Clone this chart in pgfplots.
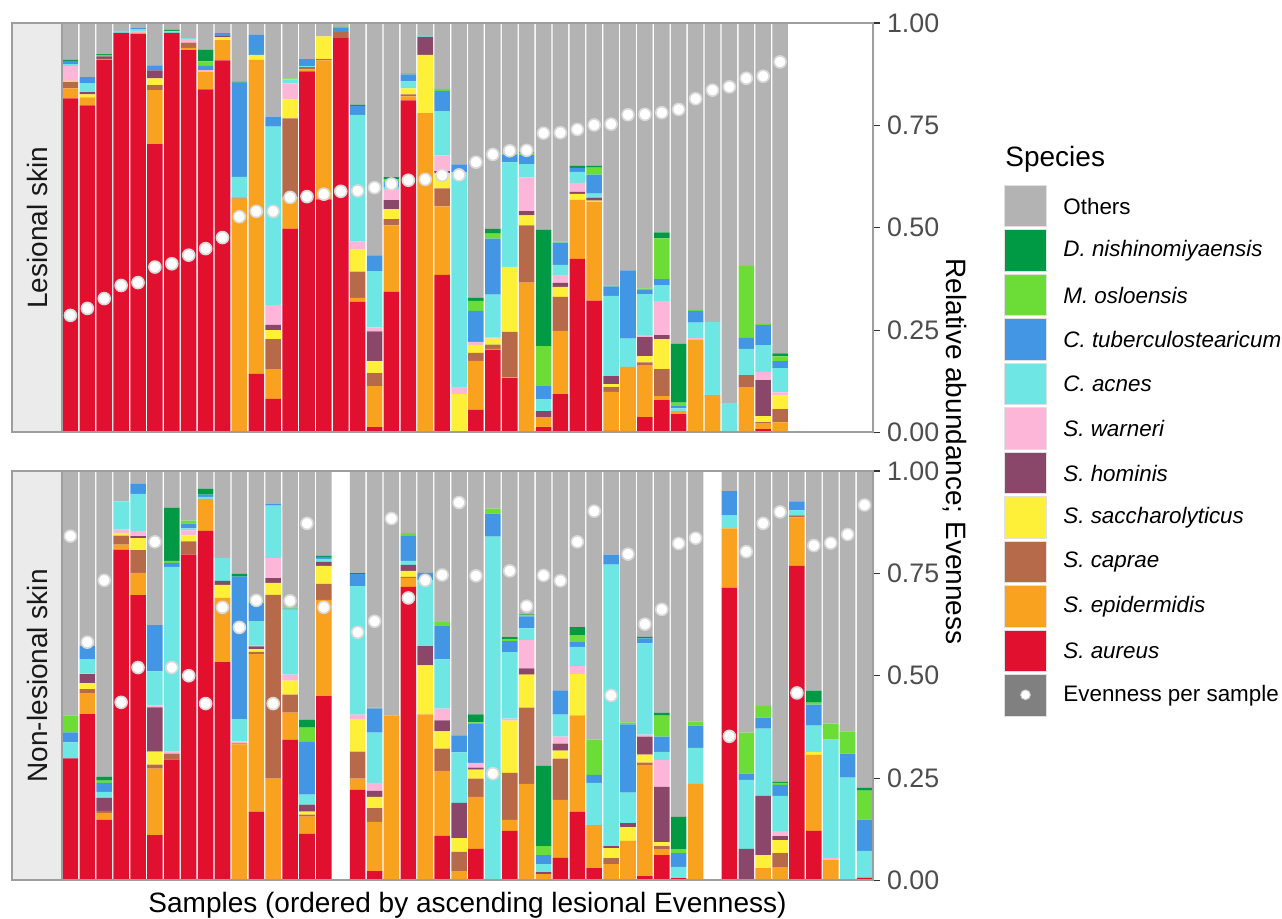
\documentclass[border=0pt]{standalone}
\usepackage{pgfplots}
\pgfplotsset{compat=1.18}
\usepackage{pgfplotstable}
\usepackage{fontspec}
\setmainfont{Liberation Sans}

\definecolor{cOT}{HTML}{B3B3B3}
\definecolor{cDN}{HTML}{009A44}
\definecolor{cMO}{HTML}{6BDD36}
\definecolor{cCT}{HTML}{4396E3}
\definecolor{cAC}{HTML}{6EE6E4}
\definecolor{cWA}{HTML}{FDB6D8}
\definecolor{cHO}{HTML}{8B4769}
\definecolor{cSA}{HTML}{FEEF38}
\definecolor{cCA}{HTML}{B66A4A}
\definecolor{cEP}{HTML}{F8A21F}
\definecolor{cAU}{HTML}{E1102F}
\definecolor{framec}{HTML}{9E9E9E}
\definecolor{stripc}{HTML}{EBEBEB}
\definecolor{ticklab}{HTML}{4D4D4D}
\definecolor{tickc}{HTML}{333333}

\pgfplotstableread{
x au ep ca sa ho wa ac ct mo dn ot ev
0 0.816 0.0245 0.0155 0.0025 0 0.036 0.005 0.008 0 0.0025 0.090 0.286
1 0.799 0.0196 0 0.0073 0.005 0 0.022 0.0147 0 0 0.1324 0.303
2 0.910 0.0025 0 0 0.0057 0 0 0 0.004 0.002 0.0758 0.327
3 0.976 0 0 0 0 0 0.005 0 0 0 0.019 0.359
4 0.973 0.003 0 0 0 0.004 0.005 0.0025 0 0 0.0125 0.366
5 0.704 0.132 0.012 0.017 0.0196 0 0 0.012 0 0 0.1034 0.404
6 0.976 0 0 0 0 0 0.003 0 0.002 0.002 0.017 0.412
7 0.934 0.005 0.013 0 0 0.009 0.002 0 0 0 0.037 0.433
8 0.838 0.042 0 0 0 0.005 0 0.010 0.011 0.029 0.065 0.449
9 0.909 0.049 0 0.007 0.005 0 0 0.005 0 0 0.025 0.476
10 0 0.571 0.0025 0 0 0 0.051 0.230 0 0.0025 0.143 0.527
11 0.143 0.767 0 0.012 0 0 0 0.049 0 0 0.029 0.540
12 0.082 0.073 0.073 0.022 0.013 0.048 0.436 0.0245 0 0 0.2285 0.540
13 0.498 0.076 0.193 0.0465 0 0.039 0.0098 0 0.0025 0 0.1352 0.574
14 0.882 0.005 0.005 0 0 0 0.0025 0.017 0 0 0.0885 0.576
15 0.569 0.340 0.0025 0.056 0 0 0 0 0 0 0.0325 0.582
16 0.963 0 0.015 0 0 0 0 0.0098 0.0025 0 0.0097 0.589
17 0.319 0.0098 0.064 0.054 0 0.0196 0.309 0.022 0 0.0025 0.2001 0.590
18 0.013 0.100 0.032 0.029 0.073 0.0098 0.137 0.039 0 0 0.5672 0.598
19 0.344 0.162 0.015 0.0245 0.022 0.027 0.005 0.012 0.007 0.005 0.3765 0.607
20 0.811 0.0098 0.005 0.0147 0 0 0.017 0.017 0.003 0 0.1225 0.616
21 0 0.780 0 0.142 0.044 0 0.0025 0 0 0 0.0315 0.618
22 0.385 0.167 0.044 0.037 0.005 0.039 0.108 0.049 0.005 0 0.161 0.628
23 0 0 0 0.094 0 0.017 0.524 0.0196 0 0 0.3454 0.629
24 0.055 0.120 0.0196 0.0196 0 0.007 0 0.076 0.0245 0.007 0.6713 0.660
25 0.202 0.0025 0.0098 0.0147 0 0.0025 0.105 0.137 0.012 0.012 0.5025 0.679
26 0.133 0.0025 0.110 0.159 0 0 0.255 0.0196 0.0025 0 0.3184 0.688
27 0 0.366 0.140 0.0245 0.0098 0.083 0.032 0.022 0.005 0.002 0.3157 0.689
28 0.013 0.0245 0 0 0.0147 0 0.029 0.032 0.098 0.284 0.5048 0.731
29 0.094 0.154 0.083 0.0245 0.0098 0.0196 0.0245 0.054 0.0025 0 0.5341 0.732
30 0.424 0.144 0 0.0147 0.005 0.022 0.027 0.0098 0 0.005 0.3485 0.740
31 0.322 0.242 0 0.0025 0.007 0 0.0098 0.0465 0.017 0.005 0.3482 0.751
32 0.004 0.095 0.012 0.007 0.0196 0 0.196 0.023 0.0025 0 0.6409 0.753
33 0 0.160 0 0 0 0 0.069 0.167 0 0 0.604 0.776
34 0.0375 0.127 0.007 0.0147 0.0465 0.005 0.100 0.012 0.0025 0 0.6478 0.777
35 0.079 0.0098 0.066 0.073 0.0098 0.083 0.039 0.0147 0.100 0.0147 0.511 0.781
36 0.045 0.007 0 0 0 0 0.007 0.007 0.007 0.144 0.783 0.789
37 0 0.226 0 0 0 0.005 0.037 0.029 0.0025 0 0.7005 0.815
38 0 0.091 0 0 0 0 0.179 0 0 0 0.730 0.836
39 0 0 0 0 0 0.0025 0.069 0 0 0 0.9285 0.844
40 0 0.111 0.029 0 0 0 0.064 0.027 0.176 0 0.593 0.865
41 0.008 0.0147 0.0025 0.0147 0.088 0.0196 0.066 0.049 0.0025 0 0.735 0.870
42 0 0.025 0.032 0.034 0 0.007 0.059 0.017 0.012 0.007 0.807 0.905
}\lesional

\pgfplotstableread{
x au ep ca sa ho wa ac ct mo dn ot ev
0 0.298 0 0 0 0 0 0.039 0.0245 0.042 0 0.5965 0.841
1 0.406 0.0515 0.0098 0.0147 0.022 0.0025 0.034 0.032 0 0 0.4275 0.582
2 0.148 0.017 0.005 0 0.032 0 0.0147 0.022 0.005 0.0098 0.7465 0.733
3 0.808 0.012 0.022 0.005 0 0.0098 0.069 0 0 0 0.0742 0.435
4 0.697 0.054 0.056 0.029 0.005 0.012 0.091 0.0245 0 0 0.0315 0.520
5 0.111 0.162 0.0098 0.032 0.108 0.005 0.083 0.113 0 0 0.3762 0.827
6 0.295 0 0.0147 0 0 0.005 0.451 0.0098 0.005 0.130 0.0895 0.520
7 0.796 0 0.032 0.0147 0 0.012 0.005 0.012 0.007 0 0.1213 0.500
8 0.854 0.078 0 0 0 0 0.005 0.005 0 0.0147 0.0433 0.432
9 0.533 0.157 0 0.032 0.0098 0 0.056 0 0 0 0.2122 0.667
10 0.0025 0.330 0.0025 0 0 0.005 0.054 0.348 0 0.007 0.251 0.618
11 0.168 0.385 0.005 0.007 0.007 0.0025 0.059 0.044 0.0098 0 0.3127 0.684
12 0.0025 0.246 0.449 0.029 0.012 0.049 0.128 0.005 0 0 0.0795 0.432
13 0.344 0.066 0.044 0.034 0 0.0147 0.159 0.0025 0.0025 0 0.3333 0.683
14 0.114 0.042 0.005 0.007 0.017 0 0.0245 0.130 0.034 0.0196 0.6069 0.872
15 0.450 0.2355 0.039 0.044 0.0098 0 0.007 0.005 0 0.003 0.2067 0.667
17 0.2215 0.027 0.066 0.0785 0 0.012 0.314 0.029 0 0.0025 0.2495 0.606
18 0.023 0.120 0.034 0.027 0.0147 0.0196 0.123 0.059 0.0025 0 0.5772 0.633
19 0 0.403 0 0 0 0 0 0 0 0 0.597 0.884
20 0.717 0.022 0.0025 0.0147 0.0147 0 0.0098 0.061 0.007 0 0.1513 0.690
21 0 0.4055 0 0.120 0.0466 0 0.162 0.017 0 0 0.2489 0.733
22 0.109 0.159 0.054 0.042 0.027 0.029 0.120 0.081 0.0098 0 0.3692 0.746
23 0 0.023 0.0466 0.034 0.086 0 0.123 0.042 0 0 0.6454 0.923
24 0.077 0.1275 0.044 0.022 0.005 0.012 0 0.096 0.0025 0.0196 0.5944 0.744
25 0 0 0 0 0 0 0.840 0.056 0.012 0 0.092 0.261
26 0.121 0.027 0.115 0.1275 0 0.005 0.162 0.027 0.005 0.005 0.4055 0.756
27 0 0.236 0.186 0.081 0.0147 0.069 0.029 0.029 0.0025 0.0025 0.3503 0.670
28 0 0.0155 0 0 0.005 0 0.0196 0.022 0.022 0.196 0.7199 0.745
29 0.055 0.142 0.1005 0.0196 0.017 0.017 0.054 0.059 0 0 0.5359 0.732
30 0.168 0.2355 0 0.1006 0 0.0196 0.0466 0.012 0.017 0.0196 0.3811 0.827
31 0.030 0.1055 0 0 0 0 0.103 0.0196 0.086 0 0.6559 0.902
32 0 0.040 0.0147 0.0245 0.005 0 0.687 0.0245 0 0 0.2043 0.452
33 0 0.0965 0 0.034 0.0098 0 0.074 0.167 0.005 0 0.6137 0.797
34 0.0106 0.272 0.005 0.0196 0.044 0.005 0.223 0.012 0 0.004 0.4048 0.626
35 0.062 0.0147 0.007 0.0098 0.135 0.066 0.0196 0.037 0.0515 0.007 0.5904 0.662
36 0.006 0 0 0 0 0 0.027 0.034 0.0098 0.0785 0.8447 0.823
37 0 0.236 0 0 0 0 0.088 0.054 0.0098 0 0.6122 0.836
39 0.715 0.145 0 0 0 0 0.032 0.059 0 0 0.049 0.352
40 0 0 0 0 0.077 0 0.169 0.0147 0.1006 0 0.6387 0.803
41 0 0.030 0 0.032 0.1447 0 0.164 0.027 0.029 0 0.5733 0.872
42 0 0.0327 0.034 0.032 0.0098 0.012 0.086 0.027 0.005 0.0025 0.759 0.900
43 0.7686 0.118 0.005 0 0 0 0.012 0.022 0 0 0.0744 0.458
44 0.121 0.186 0 0.007 0 0 0.064 0.0515 0.005 0.029 0.5365 0.818
45 0 0.050 0 0 0 0.005 0.289 0 0.039 0 0.617 0.824
46 0 0 0 0 0 0 0.251 0.059 0.054 0 0.636 0.845
47 0.006 0.0025 0 0 0 0 0.064 0.076 0.071 0.0074 0.7731 0.917
}\nonlesional

\pgfplotsset{
  panelgeom/.style={scale only axis, width=405.5pt, height=204.75pt,
    xmin=-0.5, xmax=47.5, ymin=0, ymax=1},
  panel/.style={panelgeom, ybar stacked, bar width=0.92, axis on top,
    xtick=\empty, ytick={0,0.25,0.5,0.75,1},
    ytick pos=right, yticklabel pos=right,
    tick align=outside, major tick length=3.5pt,
    ytick style={draw=tickc, line width=0.55pt},
    axis line style={draw=framec, line width=1pt},
    yticklabel style={font=\fontsize{13.4}{16}\selectfont, text=ticklab,
      /pgf/number format/.cd, fixed, fixed zerofill, precision=2, assume math mode=true},
  },
  dots/.style={panelgeom, hide axis},
}

\newcommand{\stackbars}[1]{%
  \addplot[fill=cAU, draw=none] table[x=x,y=au]{#1};
  \addplot[fill=cEP, draw=none] table[x=x,y=ep]{#1};
  \addplot[fill=cCA, draw=none] table[x=x,y=ca]{#1};
  \addplot[fill=cSA, draw=none] table[x=x,y=sa]{#1};
  \addplot[fill=cHO, draw=none] table[x=x,y=ho]{#1};
  \addplot[fill=cWA, draw=none] table[x=x,y=wa]{#1};
  \addplot[fill=cAC, draw=none] table[x=x,y=ac]{#1};
  \addplot[fill=cCT, draw=none] table[x=x,y=ct]{#1};
  \addplot[fill=cMO, draw=none] table[x=x,y=mo]{#1};
  \addplot[fill=cDN, draw=none] table[x=x,y=dn]{#1};
  \addplot[fill=cOT, draw=none] table[x=x,y=ot]{#1};
}
\newcommand{\evdots}[1]{%
  \addplot[only marks, mark=*, mark size=3pt,
    mark options={fill=white, draw=black!15, line width=0.8pt}] table[x=x,y=ev]{#1};
}

\begin{document}
\begin{tikzpicture}
\path[use as bounding box] (0,0) rectangle (641pt,-459.5pt);

% strips
\draw[framec, fill=stripc, line width=1pt] (6pt,-11.5pt) rectangle (31pt,-216.25pt);
\draw[framec, fill=stripc, line width=1pt] (6pt,-235.5pt) rectangle (31pt,-440.25pt);
\node[rotate=90, font=\fontsize{14}{16}\selectfont, text=black!90] at (18.5pt,-113.9pt) {Lesional skin};
\node[rotate=90, font=\fontsize{14}{16}\selectfont, text=black!90] at (18.5pt,-337.9pt) {Non-lesional skin};

% top panel
\begin{axis}[panel, at={(31pt,-11.5pt)}, anchor=north west]
\stackbars{\lesional}
\end{axis}
\begin{axis}[dots, at={(31pt,-11.5pt)}, anchor=north west]
\evdots{\lesional}
\end{axis}

% bottom panel
\begin{axis}[panel, at={(31pt,-235.5pt)}, anchor=north west]
\stackbars{\nonlesional}
\end{axis}
\begin{axis}[dots, at={(31pt,-235.5pt)}, anchor=north west]
\evdots{\nonlesional}
\end{axis}

% axis titles
\node[font=\fontsize{14}{16}\selectfont, anchor=base] at (233.75pt,-456.5pt) {Samples (ordered by ascending lesional Evenness)};
\node[rotate=-90, font=\fontsize{14}{16}\selectfont] at (477.5pt,-225.75pt) {Relative abundance; Evenness};

% legend
\node[font=\fontsize{14}{16}\selectfont, anchor=base west, inner sep=0pt] at (502.5pt,-83.5pt) {Species};
\foreach \c/\t [count=\i from 0] in {cOT/Others, cDN/\textit{D. nishinomiyaensis}, cMO/\textit{M. osloensis}, cCT/\textit{C. tuberculostearicum}, cAC/\textit{C. acnes}, cWA/\textit{S. warneri}, cHO/\textit{S. hominis}, cSA/\textit{S. saccharolyticus}, cCA/\textit{S. caprae}, cEP/\textit{S. epidermidis}, cAU/\textit{S. aureus}, black!50/Evenness per sample}{
  \pgfmathsetmacro{\ytop}{-92.65-22.25*\i}
  \fill[\c, draw=black!12, line width=0.4pt] (502.25pt,\ytop pt) rectangle (523.25pt,\ytop pt-20.75pt);
  \node[font=\fontsize{11.2}{13}\selectfont, anchor=west, inner sep=0pt] at (531.5pt,\ytop pt-10.4pt) {\t};
}
\fill[white, draw=black!18, line width=0.5pt] (512.75pt,-347.4pt) circle (2.4pt);
\end{tikzpicture}
\end{document}
